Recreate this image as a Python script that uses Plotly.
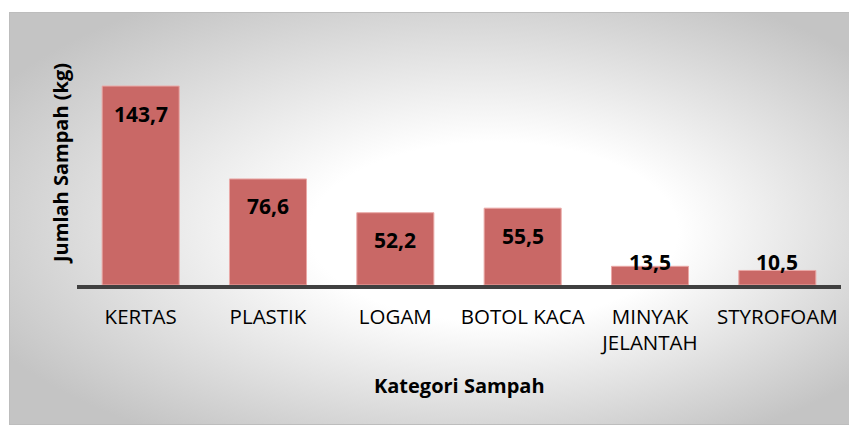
import base64
import plotly.graph_objects as go

categories = ["KERTAS", "PLASTIK", "LOGAM", "BOTOL KACA", "MINYAK JELANTAH", "STYROFOAM"]
tick_labels = ["KERTAS", "PLASTIK", "LOGAM", "BOTOL KACA", "MINYAK<br>JELANTAH", "STYROFOAM"]
values = [143.7, 76.6, 52.2, 55.5, 13.5, 10.5]
value_labels = ["143,7", "76,6", "52,2", "55,5", "13,5", "10,5"]

y_title = "Jumlah Sampah (kg)"
x_title = "Kategori Sampah"

# page body has an 8px margin, so the figure is drawn 8px smaller and offset
W, H = 849, 417
ML, MR, MT, MB = 69, 16, 35, 140
plot_w = W - ML - MR
plot_h = H - MT - MB
y_max = 174.8

svg = '''<svg xmlns="http://www.w3.org/2000/svg" width="848" height="413" viewBox="0 0 848 413" preserveAspectRatio="none">
<defs><radialGradient id="g" cx="0.52" cy="0.5" r="0.62" fx="0.6" fy="0.55">
<stop offset="0" stop-color="#ffffff"/><stop offset="0.35" stop-color="#ffffff"/>
<stop offset="1" stop-color="#c4c4c4"/></radialGradient></defs>
<rect x="0" y="0" width="848" height="413" fill="url(#g)"/>
<rect x="0.5" y="0.5" width="847" height="412" fill="none" stroke="#bdbdbd" stroke-width="1"/>
</svg>'''
src = "data:image/svg+xml;base64," + base64.b64encode(svg.encode()).decode()

box_l, box_t, box_r, box_b = 1, 4, 849, 417

fig = go.Figure()
fig.add_trace(go.Bar(
    x=categories, y=values,
    marker=dict(color="#c96866", line=dict(color="#eaa8a6", width=1)),
    hoverinfo="skip",
))

px_per_unit = plot_h / y_max
for c, v, t in zip(categories, values, value_labels):
    ly = max(v - 27.5 / px_per_unit, 23 / px_per_unit)
    fig.add_annotation(x=c, y=ly, text=f"<b>{t}</b>", showarrow=False,
                       xanchor="center", yanchor="middle",
                       font=dict(family="Open Sans", size=21, color="#000000"))

fig.add_annotation(xref="paper", yref="paper", x=0, y=0.5, xshift=-17,
                   text=f"<b>{y_title}</b>", textangle=-90, showarrow=False,
                   xanchor="center", yanchor="middle",
                   font=dict(family="Open Sans", size=20, color="#000000"))
fig.add_annotation(xref="paper", yref="paper", x=0.5, y=0, yshift=-100,
                   text=f"<b>{x_title}</b>", showarrow=False,
                   xanchor="center", yanchor="middle",
                   font=dict(family="Open Sans", size=20, color="#000000"))

fig.add_layout_image(dict(
    source=src, xref="paper", yref="paper",
    x=(box_l - ML) / plot_w, y=(H - MB - box_t) / plot_h,
    sizex=(box_r - box_l) / plot_w, sizey=(box_b - box_t) / plot_h,
    xanchor="left", yanchor="top", sizing="stretch", layer="below",
))

fig.update_layout(
    width=W, height=H,
    margin=dict(l=ML, r=MR, t=MT, b=MB),
    paper_bgcolor="#ffffff", plot_bgcolor="rgba(0,0,0,0)",
    bargap=0.395, showlegend=False,
    xaxis=dict(tickmode="array", tickvals=categories, ticktext=tick_labels,
               showline=True, linecolor="#404040", linewidth=4,
               showgrid=False, ticks="", ticklabelstandoff=10,
               tickfont=dict(family="Open Sans", size=20.5, color="#000000")),
    yaxis=dict(range=[0, y_max], visible=False, showgrid=False),
)

fig.write_html("out.html")
